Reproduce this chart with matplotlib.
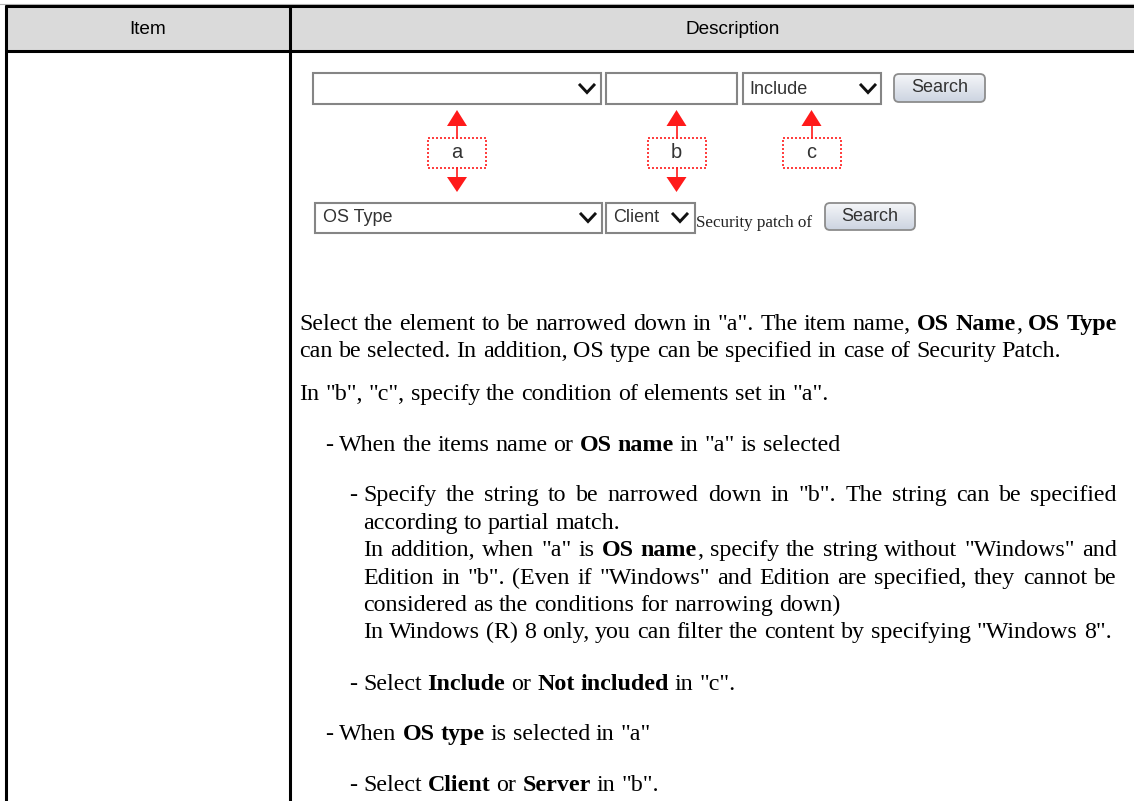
import matplotlib
matplotlib.use("Agg")
import numpy as np
import matplotlib.pyplot as plt
from matplotlib.patches import Rectangle, Polygon, FancyBboxPatch

# ---- content -------------------------------------------------------------
HEADERS = ["Item", "Description"]
ROW1_LABELS = ["", "", "Include", "Search"]
ROW2_LABELS = ["OS Type", "Client", "Security patch of", "Search"]
MARKERS = ["a", "b", "c"]

# each block: (indent level, lines); **...** marks bold runs
BLOCKS = [
    (0, ['Select the element to be narrowed down in "a". The item name, **OS Name**, **OS Type**',
         'can be selected. In addition, OS type can be specified in case of Security Patch.']),
    (0, ['In "b", "c", specify the condition of elements set in "a".']),
    (1, ['When the items name or **OS name** in "a" is selected']),
    (2, ['Specify the string to be narrowed down in "b". The string can be specified',
         'according to partial match.',
         'In addition, when "a" is **OS name**, specify the string without "Windows" and',
         'Edition in "b". (Even if "Windows" and Edition are specified, they cannot be',
         'considered as the conditions for narrowing down)',
         'In Windows (R) 8 only, you can filter the content by specifying "Windows 8".']),
    (2, ['Select **Include** or **Not included** in "c".']),
    (1, ['When **OS type** is selected in "a"']),
    (2, ['Select **Client** or **Server** in "b".']),
]
# (block, line) pairs that are justified to the right margin
JUSTIFIED = {(0, 0), (3, 0), (3, 2), (3, 3)}

# ---- setup ---------------------------------------------------------------
W, H = 1134, 801
PT = 0.72  # points per pixel at dpi 100
SERIF = "Liberation Serif"
SANS = "Liberation Sans"

fig = plt.figure(figsize=(W / 100, H / 100), dpi=100)
ax = fig.add_axes([0, 0, 1, 1])
ax.set_xlim(0, W)
ax.set_ylim(H, 0)
ax.axis("off")
renderer = fig.canvas.get_renderer()


def text_width(t):
    return t.get_window_extent(renderer).width


# ---- table frame ---------------------------------------------------------
ax.add_patch(Rectangle((6, 6), W, 45, facecolor="#dadada", edgecolor="none"))
ax.plot([0, W], [3.5, 3.5], color="#b4b4b4", lw=0.8)
for y in (6, 51):
    ax.plot([5, W], [y, y], color="black", lw=2.2, solid_capstyle="butt")
for x in (6, 290):
    ax.plot([x, x], [5, H], color="black", lw=2.2, solid_capstyle="butt")

ax.text(148, 29, HEADERS[0], ha="center", va="center", family=SANS, fontsize=19 * PT)
ax.text(733, 29, HEADERS[1], ha="center", va="center", family=SANS, fontsize=19 * PT)

# ---- search form picture -------------------------------------------------
WIDGET_TXT = "#333333"


def field(x0, x1, y0, y1):
    ax.add_patch(Rectangle((x0, y0), x1 - x0, y1 - y0, facecolor="white",
                           edgecolor="#858585", lw=1.5))


def chevron(cx, cy):
    ax.plot([cx - 7, cx, cx + 7], [cy - 4, cy + 3.5, cy - 4], color="#111111",
            lw=2.1, solid_joinstyle="miter")


def button(x0, x1, y0, y1, label):
    box = FancyBboxPatch((x0, y0), x1 - x0, y1 - y0,
                         boxstyle="round,pad=0,rounding_size=5",
                         facecolor="none", edgecolor="#8c8c8c", lw=1.3, zorder=3)
    ax.add_patch(box)
    grad = np.linspace(0, 1, 64)[:, None, None]
    top = np.array([0.96, 0.965, 0.975])
    bot = np.array([0.80, 0.83, 0.88])
    img = top + (bot - top) * grad
    im = ax.imshow(np.repeat(img, 2, axis=1), extent=(x0, x1, y1, y0),
                   origin="upper", aspect="auto", zorder=2)
    im.set_clip_path(box)
    ax.text((x0 + x1) / 2, (y0 + y1) / 2, label, ha="center", va="center",
            family=SANS, fontsize=18 * PT, color=WIDGET_TXT, zorder=4)


# row 1
field(313, 601, 73, 104)
chevron(587, 89)
field(606, 737, 73, 104)
field(743, 881, 73, 104)
ax.text(749, 89, ROW1_LABELS[2], ha="left", va="center", family=SANS,
        fontsize=18 * PT, color=WIDGET_TXT)
chevron(868, 89)
button(894, 985, 74, 102, ROW1_LABELS[3])

# markers a / b / c
RED = "#ff1a1a"
for cx, lab, down in zip([457, 676.5, 811.5], MARKERS, [True, True, False]):
    ax.add_patch(Polygon([(cx - 10, 126), (cx + 10, 126), (cx, 110)], closed=True,
                         facecolor=RED, edgecolor="none"))
    ax.plot([cx, cx], [126, 138], color=RED, lw=1.2)
    ax.add_patch(Rectangle((cx - 29, 138), 58, 30, facecolor="white", edgecolor=RED,
                           lw=1.2, linestyle=(0, (1.2, 1.2))))
    ax.text(cx, 153, lab, ha="center", va="center", family=SANS,
            fontsize=20 * PT, color="#333333")
    if down:
        ax.plot([cx, cx], [168, 177], color=RED, lw=1.2)
        ax.add_patch(Polygon([(cx - 10, 177), (cx + 10, 177), (cx, 192)], closed=True,
                             facecolor=RED, edgecolor="none"))

# row 2
field(315, 602, 203, 233)
ax.text(323, 218, ROW2_LABELS[0], ha="left", va="center", family=SANS,
        fontsize=18 * PT, color=WIDGET_TXT)
chevron(588, 218)
field(606, 695, 203, 233)
ax.text(613, 218, ROW2_LABELS[1], ha="left", va="center", family=SANS,
        fontsize=18 * PT, color=WIDGET_TXT)
chevron(680, 218)
ax.text(696, 227, ROW2_LABELS[2], ha="left", va="baseline", family=SERIF,
        fontsize=17 * PT, color="#222222")
button(825, 915, 203, 230, ROW2_LABELS[3])

# ---- description text ----------------------------------------------------
BODY = 24 * PT
RIGHT = 1117
INDENT_TEXT = [299, 339, 363]
INDENT_DASH = [None, 325, 349]
PITCH = 27.4
GAP_BEFORE = [0, 43, 51, 50, 52, 50, 51]


def split_words(line):
    words = [[]]
    for i, part in enumerate(line.split("**")):
        bold = i % 2 == 1
        for j, chunk in enumerate(part.split(" ")):
            if j > 0:
                words.append([])
            if chunk:
                words[-1].append((chunk, bold))
    return [w for w in words if w]


def advance(txt, bold):
    # advance width including side bearings, measured between two bars
    weight = "bold" if bold else "normal"
    a = ax.text(0, 0, "|" + txt + "|", family=SERIF, fontsize=BODY, fontweight=weight)
    b = ax.text(0, 0, "||", family=SERIF, fontsize=BODY, fontweight=weight)
    w = text_width(a) - text_width(b)
    a.remove()
    b.remove()
    return w


SPACE = advance(" ", False)


def draw_line(x, y, line, justify):
    words = []
    total = 0
    for w in split_words(line):
        runs = []
        for txt, bold in w:
            bw = advance(txt, bold)
            runs.append((txt, bold, bw))
            total += bw
        words.append(runs)
    gap = SPACE
    if justify and len(words) > 1:
        gap = (RIGHT - x - total) / (len(words) - 1)
    cx = x
    for runs in words:
        for txt, bold, bw in runs:
            ax.text(cx, y, txt, ha="left", va="baseline", family=SERIF,
                    fontsize=BODY, fontweight="bold" if bold else "normal")
            cx += bw
        cx += gap


y = 330
for bi, (level, lines) in enumerate(BLOCKS):
    y += GAP_BEFORE[bi] if bi else 0
    if INDENT_DASH[level] is not None:
        ax.text(INDENT_DASH[level], y, "-", ha="left", va="baseline",
                family=SERIF, fontsize=BODY)
    for li, line in enumerate(lines):
        if li:
            y += PITCH
        draw_line(INDENT_TEXT[level], y, line, (bi, li) in JUSTIFIED)

ax.set_xlim(0, W)
ax.set_ylim(H, 0)
fig.savefig("out.png", dpi=100, facecolor="white")
